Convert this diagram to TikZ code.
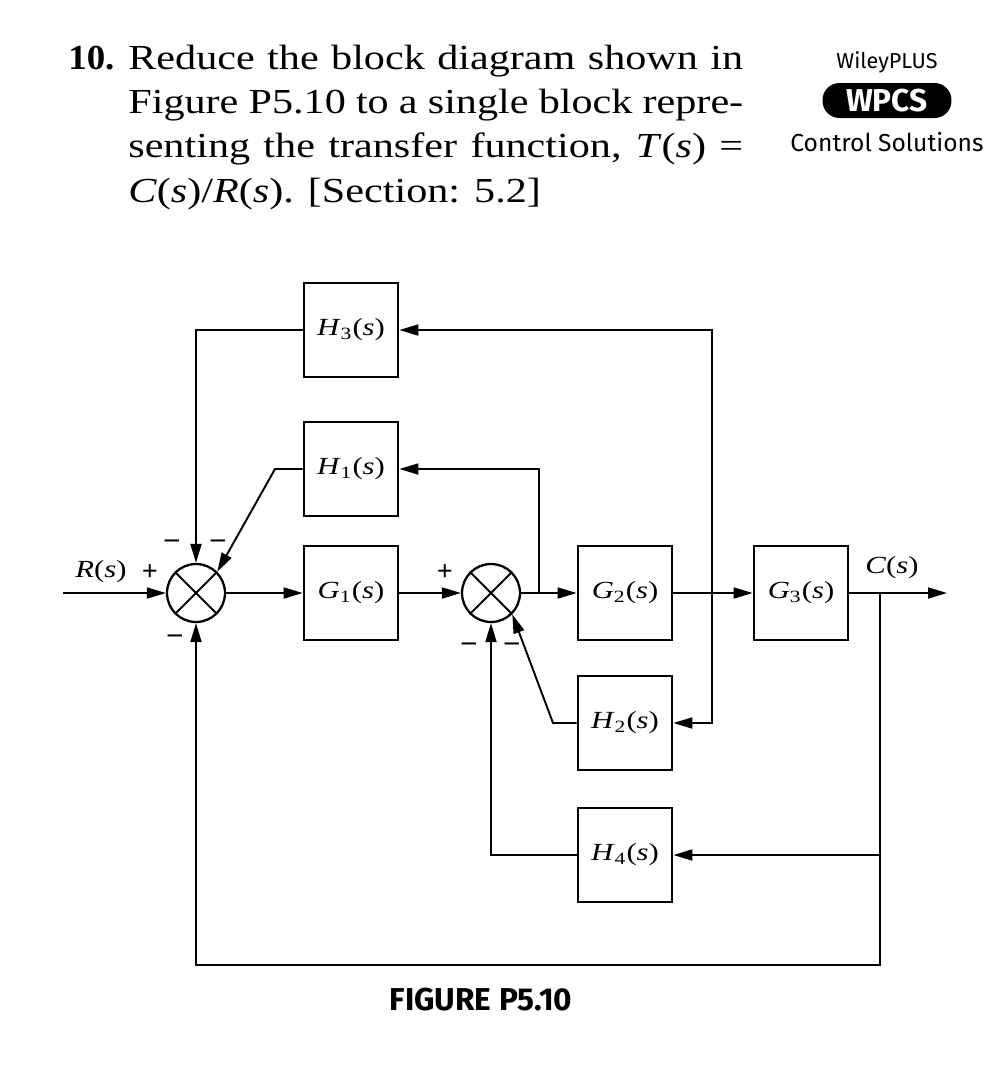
\documentclass[tikz,border=0pt]{standalone}
\usepackage{fontspec}
\usepackage{graphicx}
\setmainfont{Liberation Serif}
\newfontfamily\logofont{Fira Sans}
\usetikzlibrary{arrows.meta}
\newcommand\tf[2]{\scalebox{1.25}[1]{\textit{#1}\textsubscript{#2}(\textit{s})}}
\newcommand\qline[1]{\scalebox{1.2}[1]{\makebox[10.25cm][s]{#1}}}
\tikzset{
  block/.style={draw, line width=1.6pt, minimum width=1.88cm, minimum height=1.88cm, inner sep=0pt, font=\fontsize{14}{16}\selectfont},
  sumjunc/.style={draw, circle, line width=1.3pt, minimum size=1.16cm, inner sep=0pt},
  wire/.style={line width=1.1pt},
  sig/.style={wire, -{Triangle[length=0.38cm,width=0.22cm]}},
  sgn/.style={inner sep=0pt, font=\bfseries\fontsize{16}{18}\selectfont},
  qtext/.style={anchor=base west, inner sep=0pt, font=\fontsize{20}{24}\selectfont},
}
\begin{document}
\begin{tikzpicture}[x=0.02cm,y=-0.02cm]
		%%%%% START %%%%%
		\useasboundingbox (0,0) rectangle (1000,1076);
		
		\node[qtext] (num) at (68,69) {\scalebox{1.05}[1]{\textbf{10.}}};
		\node[qtext] (line1) at (128,69) {\qline{Reduce the block diagram shown in}};
		\node[qtext] (line2) at (128,113) {\qline{Figure P5.10 to a single block repre-}};
		\node[qtext] (line3) at (128,157) {\qline{senting the transfer function, \textit{T}(\textit{s}) =}};
		\node[qtext] (line4) at (128,202) {\scalebox{1.2}[1]{\textit{C}(\textit{s})/\textit{R}(\textit{s}). [Section: 5.2]}};
		
		\node[font=\logofont\fontsize{12.3}{14}\selectfont] (wiley) at (887,62) {WileyPLUS};
		\node[fill=black, rounded corners=0.34cm, minimum width=2.58cm, minimum height=0.7cm, inner sep=0pt, text=white, font=\logofont\bfseries\fontsize{18}{20}\selectfont] (wpcs) at (887,100.5) {WPCS};
		\node[font=\logofont\fontsize{14}{16}\selectfont] (ctrl) at (887,142) {Control Solutions};
		
		\node[block] (H3) at (351,330) {\tf{H}{3}};
		\node[block] (H1) at (351,469) {\tf{H}{1}};
		\node[block] (G1) at (351,593) {\tf{G}{1}};
		\node[block] (G2) at (625,593) {\tf{G}{2}};
		\node[block] (G3) at (801,593) {\tf{G}{3}};
		\node[block] (H2) at (625,723) {\tf{H}{2}};
		\node[block] (H4) at (625,855) {\tf{H}{4}};
		
		\node[sumjunc] (S1) at (196,593) {};
		\node[sumjunc] (S2) at (491,593) {};
		\draw[wire] (S1.north west) -- (S1.south east) (S1.north east) -- (S1.south west);
		\draw[wire] (S2.north west) -- (S2.south east) (S2.north east) -- (S2.south west);
		
		\coordinate (Rin) at (63,593);
		\coordinate (Cout) at (947,593);
		\coordinate (P1) at (539,593);
		\coordinate (P2) at (712,593);
		\coordinate (P3) at (880,593);
		\coordinate (K1) at (275,469);
		\coordinate (K2) at (553,723);
		\coordinate (B2) at (880,965);
		
		\draw[sig] (Rin) -- (S1.west);
		\draw[sig] (S1.east) -- (G1.west);
		\draw[sig] (G1.east) -- (S2.west);
		\draw[sig] (S2.east) -- (G2.west);
		\draw[sig] (G2.east) -- (G3.west);
		\draw[sig] (G3.east) -- (Cout);
		
		\draw[sig] (P1) |- (H1.east);
		\draw[sig] (H1.west) -- (K1) -- (S1.north east);
		\draw[sig] (P2) |- (H3.east);
		\draw[sig] (H3.west) -| (S1.north);
		\draw[sig] (P2) |- (H2.east);
		\draw[sig] (H2.west) -- (K2) -- (S2.south east);
		\draw[sig] (P3) |- (H4.east);
		\draw[sig] (H4.west) -| (S2.south);
		\draw[sig] (P3) -- (B2) -| (S1.south);
		
		\node[inner sep=0pt, font=\fontsize{14}{16}\selectfont] (Rlab) at (101,572) {\scalebox{1.25}[1]{\textit{R}(\textit{s})}};
		\node[inner sep=0pt, font=\fontsize{14}{16}\selectfont] (Clab) at (892,568) {\scalebox{1.25}[1]{\textit{C}(\textit{s})}};
		\node[sgn] (pa) at (150,573) {+};
		\node[sgn] (ma) at (172,544) {–};
		\node[sgn] (mb) at (218,544) {–};
		\node[sgn] (mc) at (175,639) {–};
		\node[sgn] (pb) at (445,573) {+};
		\node[sgn] (md) at (469,647) {–};
		\node[sgn] (me) at (512,647) {–};
		
		\node[font=\logofont\bfseries\fontsize{18}{20}\selectfont] (cap) at (481,1000) {FIGURE P5.10};
		
		%%%%% END %%%%%
\end{tikzpicture}
\end{document}
